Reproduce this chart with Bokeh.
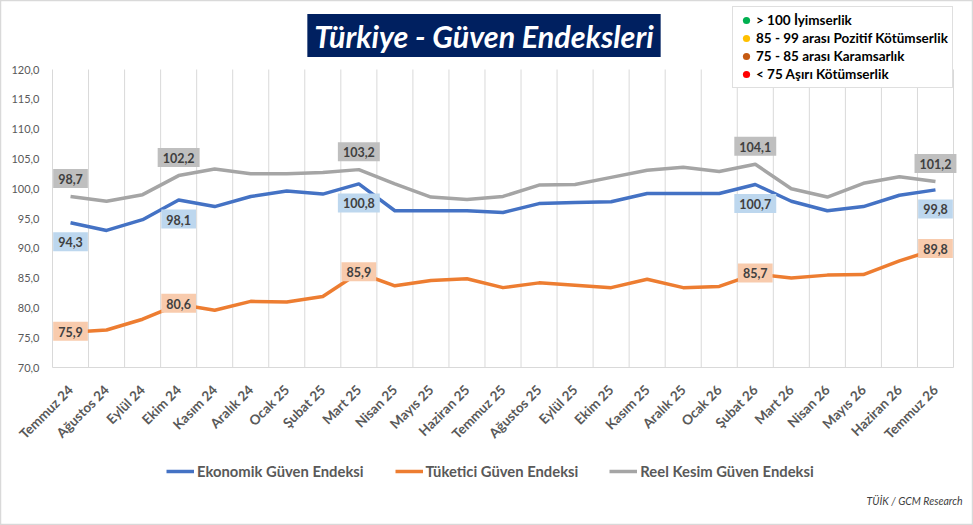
import math
from bokeh.plotting import figure
from bokeh.models import (Range1d, FixedTicker, Label, Legend, LegendItem,
                          CustomJSTickFormatter)
from bokeh.embed import file_html
from bokeh.resources import INLINE

# ---------------- data ----------------
months = ["Temmuz 24", "Ağustos 24", "Eylül 24", "Ekim 24", "Kasım 24", "Aralık 24",
          "Ocak 25", "Şubat 25", "Mart 25", "Nisan 25", "Mayıs 25", "Haziran 25",
          "Temmuz 25", "Ağustos 25", "Eylül 25", "Ekim 25", "Kasım 25", "Aralık 25",
          "Ocak 26", "Şubat 26", "Mart 26", "Nisan 26", "Mayıs 26", "Haziran 26", "Temmuz 26"]
ekonomik = [94.3, 93.0, 94.8, 98.1, 97.0, 98.7, 99.6, 99.1, 100.8, 96.3, 96.3, 96.3,
            96.0, 97.5, 97.7, 97.8, 99.2, 99.2, 99.2, 100.7, 97.9, 96.3, 97.0, 98.9, 99.8]
tuketici = [75.9, 76.3, 78.1, 80.6, 79.6, 81.1, 81.0, 81.9, 85.9, 83.7, 84.6, 84.9,
            83.4, 84.2, 83.8, 83.4, 84.8, 83.4, 83.6, 85.7, 85.0, 85.5, 85.6, 87.9, 89.8]
reel = [98.7, 97.9, 99.0, 102.2, 103.3, 102.5, 102.5, 102.7, 103.2, 100.8, 98.6, 98.2,
        98.7, 100.6, 100.7, 101.9, 103.1, 103.6, 102.9, 104.1, 100.0, 98.6, 100.9, 102.0, 101.2]
labeled_idx = [0, 3, 8, 19, 24]
series_names = ["Ekonomik Güven Endeksi", "Tüketici Güven Endeksi", "Reel Kesim Güven Endeksi"]
y_ticks = [70, 75, 80, 85, 90, 95, 100, 105, 110, 115, 120]
title_text = "Türkiye - Güven Endeksleri"
source_text = "TÜİK / GCM Research"
scale_labels = ["> 100 İyimserlik", "85 - 99 arası Pozitif Kötümserlik",
                "75 - 85 arası Karamsarlık", "< 75 Aşırı Kötümserlik"]
scale_levels = [100, 85, 75, 70]
scale_colors = ["#00B050", "#FFC000", "#C55A11", "#FF0000"]

# ---------------- layout / styling ----------------
FONT = "Lato"
BLUE, ORANGE, GRAY = "#4472C4", "#ED7D31", "#A5A5A5"
TXT = "#595959"
GRID = "#D9D9D9"

W, H = 973, 525
PLOT_L, PLOT_W, PLOT_T, PLOT_H = 52, 901, 69, 298   # plot area inside the canvas

n = len(months)
xs = [i + 0.5 for i in range(n)]
y_lo, y_hi = y_ticks[0], y_ticks[-1]
px_y = PLOT_H / (y_hi - y_lo)
px_x = PLOT_W / n
x_start = -PLOT_L / px_x
x_end = (W - PLOT_L) / px_x
y_top = y_hi + PLOT_T / px_y
y_bot = y_lo - (H - PLOT_T - PLOT_H) / px_y


def sx(px):   # canvas pixel -> x data coordinate (for placing annotations)
    return (px - PLOT_L) / px_x


def sy(py):   # canvas pixel (from top) -> y data coordinate
    return y_hi - (py - PLOT_T) / px_y


p = figure(width=W, height=H, output_backend="svg", toolbar_location=None, title=None,
           x_range=Range1d(x_start, x_end), y_range=Range1d(y_bot, y_top),
           min_border_left=0, min_border_right=0, min_border_top=0, min_border_bottom=0)
p.outline_line_color = "#D9D9D9"
p.outline_line_width = 1.5
p.background_fill_color = "white"
p.border_fill_color = "white"
p.xgrid.grid_line_color = None
p.ygrid.grid_line_color = None

# vertical category separators (Excel-style gridlines between categories)
bounds = list(range(n + 1))
p.segment(x0=bounds, y0=[y_lo] * len(bounds), x1=bounds, y1=[y_hi] * len(bounds),
          line_color=GRID, line_width=1)

# x axis, pinned at the bottom of the value range
xa = p.xaxis[0]
xa.fixed_location = y_lo
xa.bounds = (0, n)
xa.ticker = FixedTicker(ticks=xs)
xa.formatter = CustomJSTickFormatter(args=dict(labels=months),
                                     code="return labels[Math.floor(tick)] || '';")
xa.major_label_orientation = math.pi / 4
xa.major_label_text_font = FONT
xa.major_label_text_font_style = "bold"
xa.major_label_text_font_size = "13.5px"
xa.major_label_text_color = TXT
xa.major_tick_line_color = None
xa.minor_tick_line_color = None
xa.major_tick_out = 0
xa.major_tick_in = 0
xa.axis_line_color = GRID
xa.major_label_standoff = 20

# y axis, pinned at the left edge of the category range
ya = p.yaxis[0]
ya.fixed_location = 0
ya.ticker = FixedTicker(ticks=y_ticks)
ya.formatter = CustomJSTickFormatter(code="return tick.toFixed(1).replace('.', ',');")
ya.major_label_text_font = FONT
ya.major_label_text_font_size = "11px"
ya.major_label_text_color = TXT
ya.major_tick_line_color = None
ya.minor_tick_line_color = None
ya.major_tick_out = 0
ya.major_tick_in = 0
ya.axis_line_color = None
ya.major_label_standoff = 13

# lines
r_tu = p.line(xs, tuketici, line_color=ORANGE, line_width=3.5, line_join="round")
r_re = p.line(xs, reel, line_color=GRAY, line_width=3.5, line_join="round")
r_ek = p.line(xs, ekonomik, line_color=BLUE, line_width=3.5, line_join="round")


def fmt(v):
    return f"{v:.1f}".replace(".", ",")


for i in labeled_idx:
    for vals, bg, off in ((reel, "#BFBFBF", 18), (ekonomik, "#BDD7EE", -19), (tuketici, "#F8CBAD", 1)):
        p.add_layout(Label(x=xs[i], y=vals[i], y_offset=off, text=fmt(vals[i]),
                           text_align="center", text_baseline="middle",
                           text_font=FONT, text_font_style="bold", text_font_size="12.5px",
                           text_color="#404040", background_fill_color=bg,
                           padding=dict(left=5, right=5, top=5, bottom=4)))

# title box
p.add_layout(Label(x=sx(483.5), y=sy(35), text=title_text, text_align="center",
                   text_baseline="middle", text_font=FONT, text_font_style="bold italic",
                   text_font_size="30.5px", text_color="white", background_fill_color="#002060",
                   padding=dict(left=7, right=7, top=4, bottom=3)))

# source note
p.add_layout(Label(x=sx(962), y=sy(500), text=source_text, text_align="right",
                   text_baseline="middle", text_font=FONT, text_font_style="italic",
                   text_font_size="10.5px", text_color="#404040"))

# bottom legend
leg = Legend(items=[LegendItem(label=series_names[0], renderers=[r_ek]),
                    LegendItem(label=series_names[1], renderers=[r_tu]),
                    LegendItem(label=series_names[2], renderers=[r_re])],
             orientation="horizontal", location=(166, H - 480),
             glyph_width=28, glyph_height=18, label_height=18, label_standoff=3,
             spacing=31, padding=5, border_line_color=None, background_fill_alpha=0,
             label_text_font=FONT, label_text_font_style="bold", label_text_font_size="14.8px",
             label_text_color=TXT)
p.add_layout(leg)

# scale legend (top right)
scale_items = []
for lab, lev, col in zip(scale_labels, scale_levels, scale_colors):
    r = p.scatter(x=[xs[0]], y=[lev], marker="circle", size=0, fill_color=col, line_color=None)
    scale_items.append(LegendItem(label=lab, renderers=[r]))
leg2 = Legend(items=scale_items, location=(732, H - 88), orientation="vertical",
              glyph_width=18, glyph_height=18, label_height=18, label_standoff=1,
              spacing=0, padding=4, border_line_color="#BFBFBF", border_line_width=1,
              background_fill_color="white", background_fill_alpha=1,
              label_text_font=FONT, label_text_font_style="bold", label_text_font_size="13.5px",
              label_text_color="#000000")
p.add_layout(leg2)

open("out.html", "w").write(file_html(p, INLINE))
